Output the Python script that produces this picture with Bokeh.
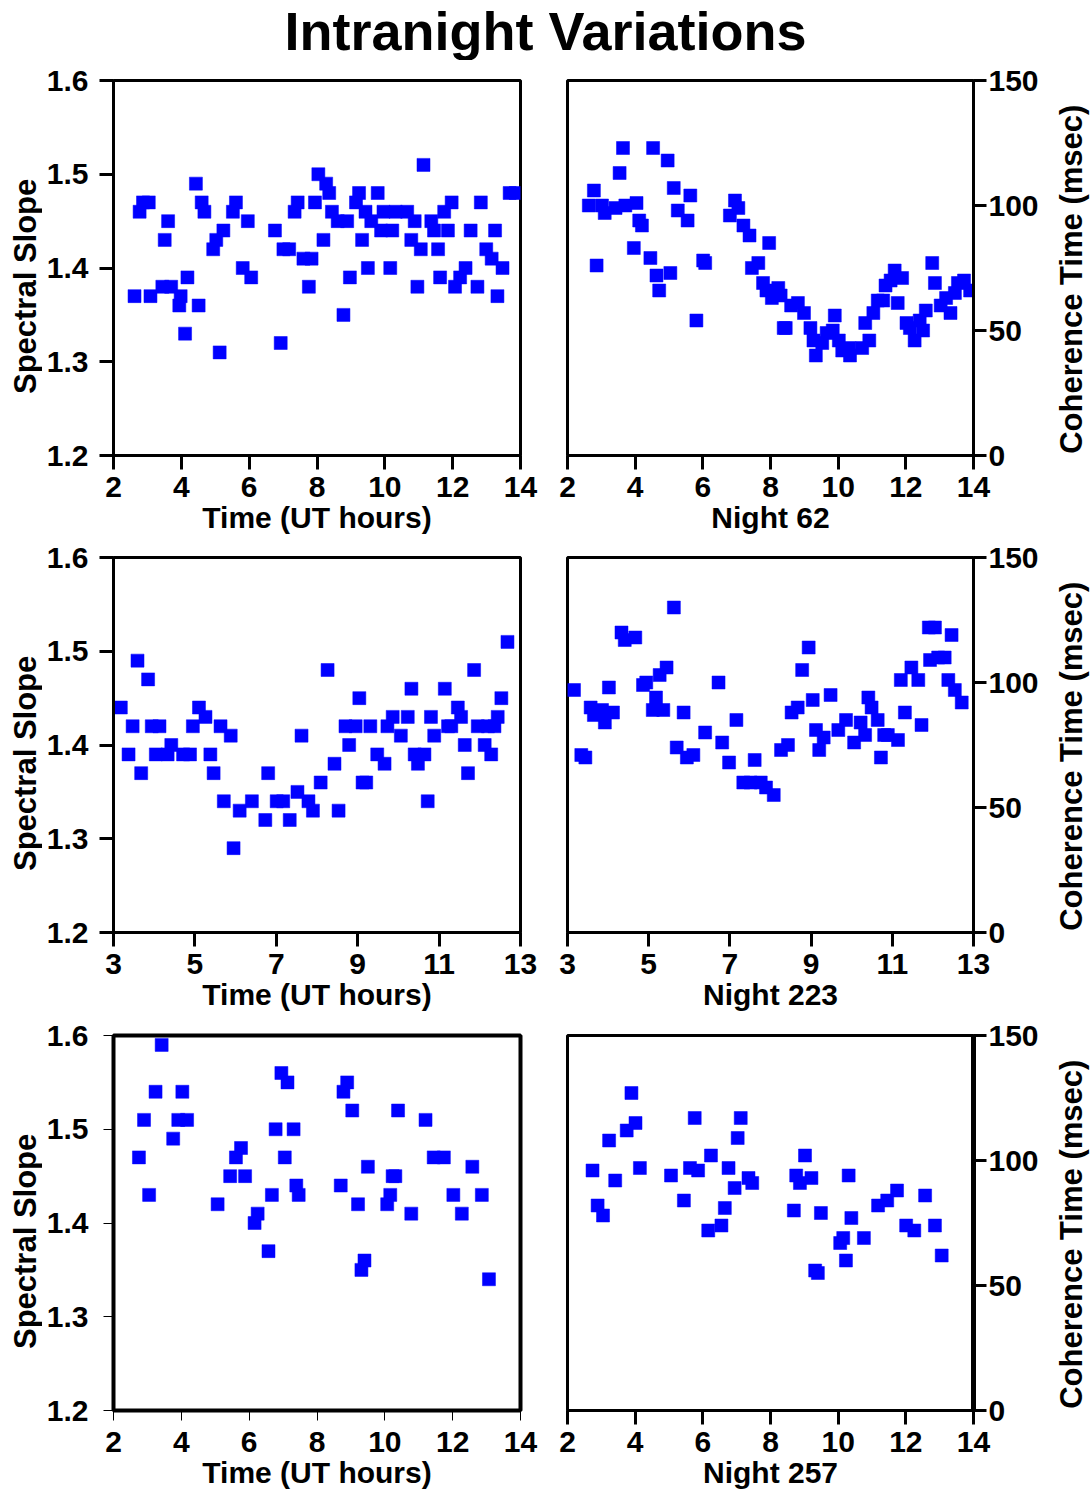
import math
from bokeh.plotting import figure
from bokeh.models import Range1d, FixedTicker
from bokeh.layouts import column, row
from bokeh.core.properties import value
from bokeh.embed import file_html
from bokeh.resources import INLINE

TITLE = "Intranight Variations"
FONT = "Liberation Sans"
BLUE = "#0000ff"

SLOPE_LABEL = "Spectral Slope"
COH_LABEL = "Coherence Time (msec)"
TIME_LABEL = "Time (UT hours)"
NIGHT_LABELS = ["Night 62", "Night 223", "Night 257"]

SLOPE_TICKS = [1.2, 1.3, 1.4, 1.5, 1.6]
COH_TICKS = [0, 50, 100, 150]
EVEN_TICKS = [2, 4, 6, 8, 10, 12, 14]
ODD_TICKS = [3, 5, 7, 9, 11, 13]

# ---- Night 62 ----
n62_slope_t = [2.62, 2.77, 2.87, 3.04, 3.09, 3.44, 3.70, 3.61, 3.51, 3.98,
               3.94, 4.18, 4.11, 4.43, 4.51, 4.60, 4.68, 4.94, 5.03, 5.24,
               5.13, 5.52, 5.61, 5.81, 6.06, 5.96, 6.76, 6.93, 7.01, 7.18,
               7.34, 7.43, 7.60, 7.84, 7.76, 7.94, 8.04, 8.27, 8.36, 8.19,
               8.44, 8.61, 8.89, 8.78, 8.97, 9.15, 9.24, 9.33, 9.43, 9.60,
               9.50, 9.79, 9.96, 9.89, 10.22, 10.16, 10.32, 10.66, 10.88, 10.78,
               11.06, 10.96, 11.14, 11.37, 11.57, 11.45, 11.63, 11.75, 11.86, 11.97,
               12.07, 12.22, 12.38, 12.53, 12.73, 12.83, 12.99, 13.15, 13.25, 13.32,
               13.47, 13.68, 13.86]
n62_slope = [1.37, 1.46, 1.47, 1.47, 1.37, 1.38, 1.38, 1.45, 1.43, 1.37,
             1.36, 1.39, 1.33, 1.49, 1.36, 1.47, 1.46, 1.42, 1.43, 1.44,
             1.31, 1.46, 1.47, 1.40, 1.39, 1.45, 1.44, 1.32, 1.42, 1.42,
             1.46, 1.47, 1.41, 1.41, 1.38, 1.47, 1.50, 1.49, 1.48, 1.43,
             1.46, 1.45, 1.45, 1.35, 1.39, 1.47, 1.48, 1.43, 1.46, 1.45,
             1.40, 1.48, 1.46, 1.44, 1.44, 1.40, 1.46, 1.46, 1.45, 1.43,
             1.42, 1.38, 1.51, 1.45, 1.42, 1.44, 1.39, 1.46, 1.44, 1.47,
             1.38, 1.39, 1.40, 1.44, 1.38, 1.47, 1.42, 1.41, 1.44, 1.37,
             1.40, 1.48, 1.48]
n62_coh_t = [2.63, 2.78, 3.02, 3.10, 2.86, 3.42, 3.54, 3.64, 3.71, 4.04,
             4.12, 4.20, 3.96, 4.45, 4.53, 4.63, 4.71, 4.96, 5.04, 5.14,
             5.26, 5.55, 5.63, 5.81, 6.01, 6.07, 6.80, 6.95, 7.05, 7.20,
             7.38, 7.45, 7.64, 7.96, 7.78, 7.88, 8.04, 8.23, 8.30, 8.39,
             8.45, 8.61, 8.81, 8.99, 9.18, 9.27, 9.34, 9.53, 9.66, 9.84,
             9.90, 10.02, 10.12, 10.33, 10.35, 10.71, 10.92, 10.80, 11.04, 11.17,
             11.33, 11.40, 11.55, 11.67, 11.89, 11.76, 12.02, 12.12, 12.26, 12.41,
             12.51, 12.59, 12.78, 12.86, 13.03, 13.19, 13.32, 13.45, 13.54, 13.72,
             13.90]
n62_coh = [100, 106, 100, 97, 76, 99, 113, 123, 100, 101,
           94, 92, 83, 79, 123, 72, 66, 118, 73, 107,
           98, 94, 104, 54, 78, 77, 96, 102, 99, 92,
           88, 75, 77, 85, 69, 66, 63, 67, 64, 51,
           51, 60, 61, 57, 51, 46, 40, 45, 49, 50,
           56, 46, 42, 43, 40, 43, 46, 53, 57, 62,
           62, 68, 70, 74, 71, 61, 53, 51, 46, 54,
           50, 58, 77, 69, 60, 63, 57, 65, 69, 70,
           66]

# ---- Night 223 ----
n223_slope_t = [3.18, 3.37, 3.47, 3.59, 3.68, 3.85, 3.94, 4.13, 4.04, 4.33,
                4.42, 4.71, 4.88, 4.95, 5.10, 5.26, 5.38, 5.46, 5.63, 5.88,
                5.71, 5.95, 6.10, 6.40, 6.73, 6.80, 7.01, 7.17, 7.33, 7.52,
                7.62, 7.79, 7.90, 8.09, 8.26, 8.43, 8.53, 8.70, 8.79, 8.95,
                9.04, 9.12, 9.21, 9.31, 9.48, 9.66, 9.73, 9.86, 10.06, 10.23,
                10.32, 10.40, 10.48, 10.64, 10.72, 10.80, 10.88, 11.14, 11.22, 11.30,
                11.46, 11.54, 11.63, 11.71, 11.86, 11.95, 12.12, 12.20, 12.28, 12.36,
                12.44, 12.53, 12.68]
n223_slope = [1.44, 1.39, 1.42, 1.49, 1.37, 1.47, 1.42, 1.42, 1.39, 1.39,
              1.40, 1.39, 1.39, 1.42, 1.44, 1.43, 1.39, 1.37, 1.42, 1.41,
              1.34, 1.29, 1.33, 1.34, 1.32, 1.37, 1.34, 1.34, 1.32, 1.35,
              1.41, 1.34, 1.33, 1.36, 1.48, 1.38, 1.33, 1.42, 1.40, 1.42,
              1.45, 1.36, 1.36, 1.42, 1.39, 1.38, 1.42, 1.43, 1.41, 1.43,
              1.46, 1.39, 1.38, 1.39, 1.34, 1.43, 1.41, 1.46, 1.42, 1.42,
              1.44, 1.43, 1.40, 1.37, 1.48, 1.42, 1.40, 1.42, 1.39, 1.42,
              1.43, 1.45, 1.51]
n223_coh_t = [3.16, 3.34, 3.44, 3.57, 3.65, 3.85, 3.92, 4.02, 4.12, 4.33,
              4.41, 4.67, 4.86, 4.94, 5.10, 5.18, 5.27, 5.36, 5.44, 5.62,
              5.69, 5.86, 5.94, 6.10, 6.39, 6.72, 6.81, 6.98, 7.16, 7.33,
              7.51, 7.61, 7.76, 7.89, 8.08, 8.26, 8.43, 8.52, 8.67, 8.78,
              8.94, 9.04, 9.12, 9.20, 9.31, 9.48, 9.67, 9.86, 10.06, 10.22,
              10.33, 10.41, 10.49, 10.64, 10.72, 10.80, 10.89, 11.14, 11.21, 11.31,
              11.47, 11.64, 11.72, 11.93, 11.90, 12.05, 12.13, 12.29, 12.46, 12.38,
              12.54, 12.71]
n223_coh = [97, 71, 70, 90, 87, 89, 84, 98, 88, 120,
            117, 118, 99, 100, 89, 94, 103, 89, 106, 130,
            74, 88, 70, 71, 80, 100, 76, 68, 85, 60,
            60, 69, 60, 58, 55, 73, 75, 88, 90, 105,
            114, 93, 81, 73, 78, 95, 81, 85, 76, 84,
            79, 94, 90, 85, 70, 79, 79, 77, 101, 88,
            106, 101, 83, 109, 122, 122, 110, 110, 119, 101,
            97, 92]

# ---- Night 257 ----
n257_slope_t = [2.75, 2.90, 3.05, 3.24, 3.42, 3.76, 3.91, 4.03, 4.17, 5.07,
                5.44, 5.61, 5.76, 5.88, 6.16, 6.25, 6.57, 6.67, 6.78, 6.95,
                7.05, 7.13, 7.31, 7.39, 7.46, 8.70, 8.78, 8.89, 9.04, 9.21,
                9.31, 9.40, 9.50, 10.07, 10.16, 10.23, 10.31, 10.39, 10.78, 11.20,
                11.44, 11.74, 12.02, 12.27, 12.58, 12.86, 13.07]
n257_slope = [1.47, 1.51, 1.43, 1.54, 1.59, 1.49, 1.51, 1.54, 1.51, 1.42,
              1.45, 1.47, 1.48, 1.45, 1.40, 1.41, 1.37, 1.43, 1.50, 1.56,
              1.47, 1.55, 1.50, 1.44, 1.43, 1.44, 1.54, 1.55, 1.52, 1.42,
              1.35, 1.36, 1.46, 1.42, 1.43, 1.45, 1.45, 1.52, 1.41, 1.51,
              1.47, 1.47, 1.43, 1.41, 1.46, 1.43, 1.34]
n257_coh_t = [2.74, 2.89, 3.05, 3.23, 3.41, 3.75, 3.89, 4.01, 4.14, 5.06,
              5.44, 5.62, 5.76, 5.86, 6.16, 6.24, 6.55, 6.65, 6.76, 6.94,
              7.03, 7.12, 7.35, 7.46, 8.69, 8.76, 8.87, 9.02, 9.21, 9.32,
              9.40, 9.49, 10.06, 10.15, 10.23, 10.31, 10.39, 10.76, 11.18, 11.45,
              11.74, 12.01, 12.25, 12.57, 12.86, 13.06]
n257_coh = [96, 82, 78, 108, 92, 112, 127, 115, 97, 94,
            84, 97, 117, 96, 72, 102, 74, 81, 97, 89,
            109, 117, 93, 91, 80, 94, 91, 102, 93, 56,
            55, 79, 67, 69, 60, 94, 77, 69, 82, 84,
            88, 74, 72, 86, 74, 62]

TICK_FONT_SIZE = "30px"
AXIS_FONT_SIZE = "30px"
SIDE_FONT_SIZE = "31px"


def style_axis(ax, ticks, tick_len=14, tick_w=3, line_w=3, standoff=5, label_standoff=6):
    ax.ticker = FixedTicker(ticks=ticks)
    ax.major_tick_out = tick_len
    ax.major_tick_in = 0
    ax.minor_tick_out = 0
    ax.minor_tick_in = 0
    ax.major_tick_line_width = tick_w
    ax.major_tick_line_color = "black"
    ax.axis_line_width = line_w
    ax.axis_line_color = "black"
    ax.major_label_text_font = FONT
    ax.major_label_text_font_style = "bold"
    ax.major_label_text_font_size = TICK_FONT_SIZE
    ax.major_label_text_color = "black"
    ax.major_label_standoff = standoff
    ax.axis_label_text_font = FONT
    ax.axis_label_text_font_style = "bold"
    ax.axis_label_text_font_size = AXIS_FONT_SIZE
    ax.axis_label_text_color = "black"
    ax.axis_label_standoff = label_standoff


def blank_fig(width, height):
    p = figure(width=width, height=height, x_range=Range1d(0, 1), y_range=Range1d(0, 1),
               x_axis_location=None, y_axis_location=None, title=None,
               min_border=0, output_backend="svg", toolbar_location=None)
    p.grid.visible = False
    p.outline_line_color = None
    p.background_fill_color = "white"
    p.border_fill_color = "white"
    return p


def side_label_fig(text, width, height, xfrac, yfrac):
    # the frame of this narrow figure lines up with the panel frames of its row
    p = blank_fig(width, height)
    p.text(x=[xfrac], y=[yfrac], text=[text], angle=math.pi / 2,
           text_align="center", text_baseline="middle",
           text_font=value(FONT), text_font_style="bold", text_font_size=SIDE_FONT_SIZE,
           text_color="black")
    return p


def make_panel(t, v, side, xr, xticks, xlabel, top, bottom,
               tick_len=14, tick_w=3, frame_w=3, yaxis_w=3):
    extra = 14 - tick_len
    if side == "left":
        yr = (SLOPE_TICKS[0], SLOPE_TICKS[-1])
        p = figure(frame_width=407, frame_height=375,
                   x_range=Range1d(xr[0], xr[1]), y_range=Range1d(yr[0], yr[1]),
                   min_border_left=71, min_border_right=20,
                   min_border_top=top, min_border_bottom=bottom,
                   output_backend="svg", toolbar_location=None)
        yticks = SLOPE_TICKS
    else:
        yr = (COH_TICKS[0], COH_TICKS[-1])
        p = figure(frame_width=406, frame_height=375,
                   x_range=Range1d(xr[0], xr[1]), y_range=Range1d(yr[0], yr[1]),
                   y_axis_location="right",
                   min_border_left=27, min_border_right=72,
                   min_border_top=top, min_border_bottom=bottom,
                   output_backend="svg", toolbar_location=None)
        yticks = COH_TICKS
    p.grid.visible = False
    p.background_fill_color = "white"
    p.border_fill_color = "white"
    p.outline_line_color = "black"
    p.outline_line_width = frame_w
    p.outline_line_alpha = 1.0

    xa = p.xaxis[0]
    style_axis(xa, xticks, tick_len=tick_len, tick_w=tick_w,
               standoff=7 + extra, label_standoff=1)
    xa.axis_label = xlabel

    ya = p.yaxis[0]
    if side == "left":
        style_axis(ya, yticks, tick_len=tick_len, tick_w=tick_w, standoff=11 + extra)
    else:
        style_axis(ya, yticks, tick_len=13, tick_w=tick_w, line_w=yaxis_w, standoff=2)

    p.scatter(t, v, marker="square", size=13, fill_color=BLUE, line_color=BLUE,
              line_width=0.5)
    return p


# title
tp = blank_fig(1090, 60)
tp.text(x=[0.5], y=[1.0], text=[TITLE], text_align="center", text_baseline="top",
        text_font=value(FONT), text_font_style="bold", text_font_size="54px",
        text_color="black")

specs = [
    ((n62_slope_t, n62_slope), (n62_coh_t, n62_coh), (2, 14), EVEN_TICKS, NIGHT_LABELS[0],
     20, 84, dict(), dict()),
    ((n223_slope_t, n223_slope), (n223_coh_t, n223_coh), (3, 13), ODD_TICKS, NIGHT_LABELS[1],
     18, 85, dict(), dict()),
    ((n257_slope_t, n257_slope), (n257_coh_t, n257_coh), (2, 14), EVEN_TICKS, NIGHT_LABELS[2],
     18, 86, dict(tick_len=10, tick_w=1, frame_w=4), dict(yaxis_w=5)),
]
rows = []
for left_d, right_d, xr, xticks, night, top, bottom, kwl, kwr in specs:
    row_h = top + 375 + bottom
    la = side_label_fig(SLOPE_LABEL, 42, row_h, 0.595, 0.451)
    a = make_panel(left_d[0], left_d[1], "left", xr, xticks, TIME_LABEL, top, bottom, **kwl)
    b = make_panel(right_d[0], right_d[1], "right", xr, xticks, night, top, bottom, **kwr)
    lb = side_label_fig(COH_LABEL, 45, row_h, 0.58, 0.47)
    rows.append(row(la, a, b, lb))

layout = column(tp, *rows)

open("out.html", "w").write(file_html(layout, INLINE, title=TITLE))
